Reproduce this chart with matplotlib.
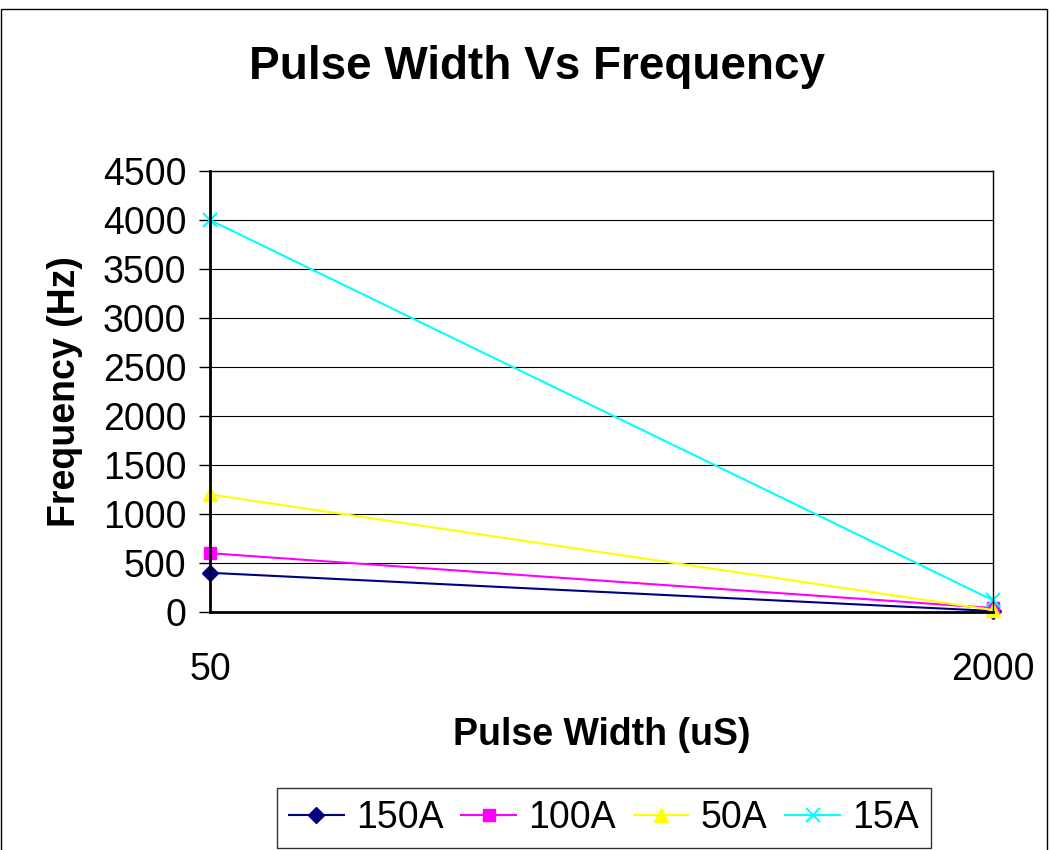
import matplotlib
matplotlib.use("Agg")
import matplotlib.pyplot as plt
from matplotlib.patches import Rectangle

# Datos
pulse_width = ["50", "2000"]
f_150a = [400, 10]
f_100a = [600, 40]
f_50a = [1200, 20]
f_15a = [4000, 120]

plt.rcParams["font.family"] = ["Liberation Sans", "DejaVu Sans"]

fig = plt.figure(figsize=(10.51, 8.5), dpi=100)
ax = fig.add_axes([0.1998, 0.28, 0.745, 0.5188])

x = range(len(pulse_width))
ax.plot(x, f_150a, color="#000080", marker="D", markersize=8, lw=1.5, label="150A")
ax.plot(x, f_100a, color="#FF00FF", marker="s", markersize=9, lw=1.5, label="100A")
ax.plot(x, f_50a, color="#FFFF00", marker="^", markersize=10, lw=1.5, label="50A")
ax.plot(x, f_15a, color="#00FFFF", marker="x", markersize=10, mew=1.5, lw=1.5, label="15A")

ax.set_xlim(0, 1)
ax.set_ylim(0, 4500)
ax.set_yticks(range(0, 4501, 500))
ax.set_xticks(list(x))
ax.set_xticklabels(pulse_width)
ax.tick_params(axis="y", labelsize=27, length=8, width=1, pad=9)
ax.tick_params(axis="x", labelsize=27, length=0, pad=29)
ax.grid(axis="y", color="black", lw=0.8)
ax.set_axisbelow(True)
for s in ["top", "right"]:
    ax.spines[s].set_linewidth(1)
for s in ["left", "bottom"]:
    ax.spines[s].set_linewidth(2)
for ln in ax.lines:
    ln.set_clip_on(False)

fig.text(537 / 1051, 1 - 79 / 850, "Pulse Width Vs Frequency", fontsize=33,
         fontweight="bold", ha="center", va="baseline")
ax.set_xlabel("Pulse Width (uS)", fontsize=27, fontweight="bold", labelpad=21)
ax.set_ylabel("Frequency (Hz)", fontsize=27, fontweight="bold", labelpad=14)

leg = ax.legend(loc="upper center", bbox_to_anchor=(0.503, -0.399), ncol=4, fontsize=27,
                frameon=True, fancybox=False, edgecolor="black", handlelength=1.46,
                handletextpad=0.32, columnspacing=0.48, borderpad=0.32,
                borderaxespad=0)
leg.get_frame().set_linewidth(1)

fig.patches.append(Rectangle((0.001, -0.01), 0.995, 1.0, transform=fig.transFigure,
                             fill=False, edgecolor="black", lw=1))

fig.savefig("out.png", dpi=100)
